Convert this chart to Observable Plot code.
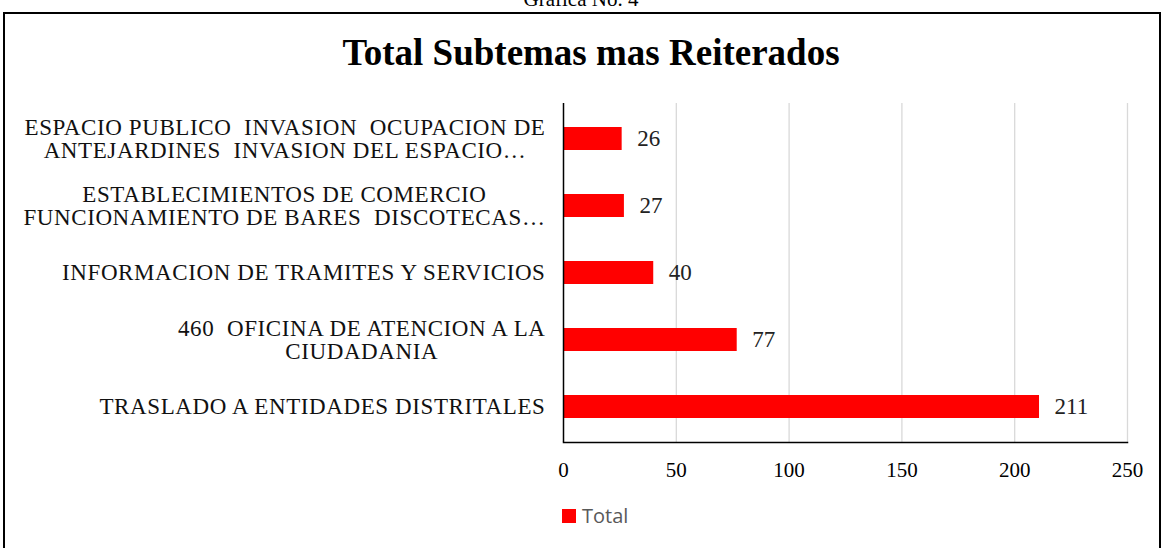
<!DOCTYPE html>
<html>
<head>
<meta charset="utf-8">
<script src="https://cdn.jsdelivr.net/npm/d3@7"></script>
<script src="https://cdn.jsdelivr.net/npm/@observablehq/plot@0.6"></script>
<style>
  html, body { margin: 0; padding: 0; background: #fff; }
  body { width: 1162px; height: 548px; overflow: hidden; position: relative; font-family: "Liberation Serif", serif; }
  #caption { position: absolute; top: -13px; left: 0; width: 1162px; text-align: center; font-size: 21px; color: #000; }
  #frame { position: absolute; left: 3px; top: 12px; width: 1154px; height: 600px; border: 2px solid #000; }
  #title { position: absolute; top: 31px; left: 10px; width: 1162px; text-align: center; font-size: 37px; font-weight: bold; color: #000; }
  #chart { position: absolute; left: 0; top: 80px; }
  #legend { position: absolute; left: 562px; top: 504px; height: 24px; font-family: "Open Sans", "Liberation Sans", sans-serif; font-size: 20px; line-height: 24px; color: #595959; display: flex; align-items: center; }
  #legend .sw { width: 14px; height: 14px; background: #ff0000; margin-right: 6px; }
  svg text { white-space: pre; }
  g[aria-label="y-axis tick label"] text { letter-spacing: 0.6px; }
</style>
</head>
<body>
<div id="caption">Gráfica No. 4</div>
<div id="frame"></div>
<div id="title">Total Subtemas mas Reiterados</div>
<div id="chart"></div>
<div id="legend"><span class="sw"></span><span id="legend-label"></span></div>
<script>
const categories = [
  "ESPACIO PUBLICO  INVASION  OCUPACION DE\nANTEJARDINES  INVASION DEL ESPACIO…",
  "ESTABLECIMIENTOS DE COMERCIO\nFUNCIONAMIENTO DE BARES  DISCOTECAS…",
  "INFORMACION DE TRAMITES Y SERVICIOS",
  "460  OFICINA DE ATENCION A LA\nCIUDADANIA",
  "TRASLADO A ENTIDADES DISTRITALES"
];
const values = [26, 27, 40, 77, 211];
const xTicks = [0, 50, 100, 150, 200, 250];
const seriesName = "Total";

document.getElementById("legend-label").textContent = seriesName;

const data = categories.map((c, i) => ({category: c, value: values[i]}));

const chart = Plot.plot({
  width: 1162,
  height: 400,
  marginLeft: 563,
  marginRight: 35,
  marginTop: 23,
  marginBottom: 38,
  style: {fontFamily: "Liberation Serif, serif", fontSize: "21px", color: "#000", background: "transparent", overflow: "visible"},
  x: {domain: [0, 250], ticks: xTicks},
  y: {domain: categories, paddingInner: 0.65, paddingOuter: 0.325},
  marks: [
    Plot.gridX(xTicks.filter(d => d > 0), {stroke: "#d9d9d9", strokeOpacity: 1, strokeWidth: 1.3}),
    Plot.barX(data, {x: "value", y: "category", fill: "#ff0000"}),
    Plot.text(data, {x: "value", y: "category", text: d => String(d.value), textAnchor: "start", dx: 15, fontSize: 23, fill: "#222"}),
    Plot.ruleX([0], {stroke: "#000", strokeWidth: 1.5}),
    Plot.frame({anchor: "bottom", stroke: "#000", strokeWidth: 1.5}),
    Plot.axisX({ticks: xTicks, tickSize: 0, tickPadding: 20, fontSize: 21, label: null}),
    Plot.axisY({tickSize: 0, tickPadding: 18, fontSize: 23, label: null, lineHeight: 1, fill: "#111"})
  ]
});
document.getElementById("chart").appendChild(chart);

// center multi-line category labels while keeping their right edge aligned
chart.querySelectorAll('g[aria-label="y-axis tick label"] text').forEach(t => {
  if (t.querySelectorAll("tspan").length > 1) {
    const b0 = t.getBBox();
    const right = b0.x + b0.width;
    t.setAttribute("text-anchor", "middle");
    const b1 = t.getBBox();
    const delta = right - (b1.x + b1.width);
    const tr = t.getAttribute("transform") || "";
    t.setAttribute("transform", tr + ` translate(${delta},0)`);
  }
});
</script>
</body>
</html>
